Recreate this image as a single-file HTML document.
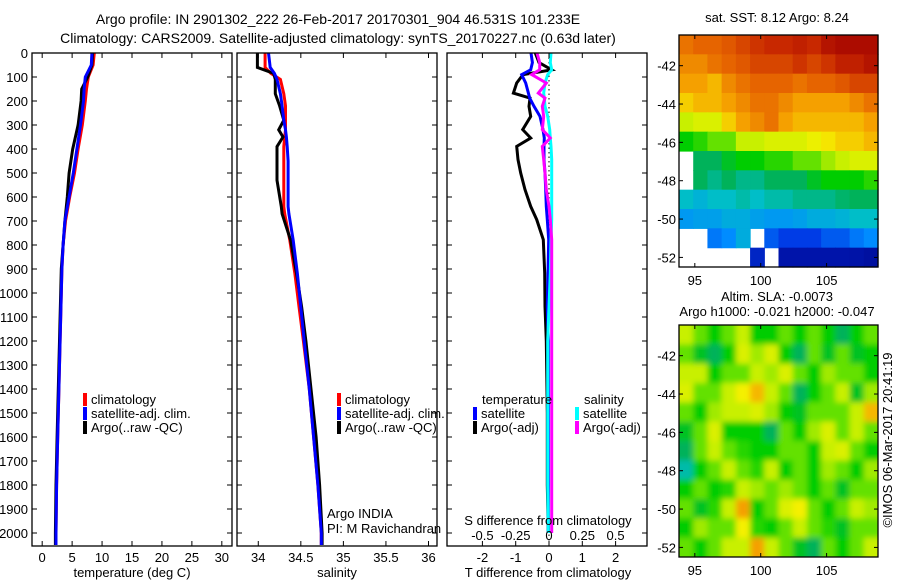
<!DOCTYPE html>
<html><head><meta charset="utf-8">
<style>
html,body{margin:0;padding:0;background:#fff;}
svg{display:block;font-family:"Liberation Sans",sans-serif;}
text{font-size:13px;fill:#000;}
</style></head>
<body>
<svg id="chart" width="900" height="580" viewBox="0 0 900 580">
<defs>
<filter id="blur" x="-10%" y="-10%" width="120%" height="120%"><feGaussianBlur stdDeviation="3"/></filter>
<clipPath id="slaclip"><rect x="679" y="325" width="199" height="232"/></clipPath>
</defs>
<text x="338" y="24" text-anchor="middle" style="font-size:14px">Argo profile: IN 2901302_222 26-Feb-2017 20170301_904 46.531S 101.233E</text>
<text x="338" y="43" text-anchor="middle" style="font-size:14px">Climatology: CARS2009. Satellite-adjusted climatology: synTS_20170227.nc (0.63d later)</text>
<g id="plots"></g>
</svg>
<script>
// ---------- data ----------
const tDepths=[0,50,100,150,200,300,400,500,600,700,800,900,1000,1200,1400,1600,1800,2000,2050];
const tClim=[8.7,8.5,7.7,7.4,7.2,6.7,6.0,5.4,4.6,3.9,3.5,3.3,3.2,3.0,2.8,2.6,2.4,2.3,2.3];
const tSat=[8.3,8.2,7.2,7.0,6.9,6.4,5.8,5.2,4.5,3.8,3.5,3.3,3.2,3.0,2.8,2.6,2.4,2.3,2.3];
const tArgo=[8.4,8.3,7.6,6.6,6.5,6.0,5.1,4.5,4.2,3.8,3.5,3.2,3.1,2.9,2.7,2.5,2.3,2.2,2.2];
const sDepths=[0,60,85,110,170,220,280,320,350,390,450,530,640,670,780,920,1060,1200,1400,1600,1800,2000,2050];
const sArgo=[33.99,33.99,34.18,34.2,34.2,34.25,34.3,34.24,34.29,34.22,34.22,34.22,34.27,34.28,34.38,34.45,34.51,34.56,34.62,34.68,34.72,34.75,34.75];
const sClim=[34.08,34.08,34.15,34.26,34.3,34.32,34.32,34.32,34.31,34.3,34.3,34.3,34.3,34.31,34.37,34.43,34.48,34.53,34.6,34.65,34.7,34.74,34.74];
const sSat=[34.12,34.14,34.19,34.22,34.26,34.28,34.3,34.32,34.33,34.34,34.35,34.35,34.35,34.36,34.41,34.46,34.5,34.54,34.6,34.65,34.7,34.74,34.74];
const dDepths=[0,40,70,90,125,167,188,222,264,319,354,389,444,500,569,639,694,778,917,1056,1200,1500,1800,2000];
const dTArgo=[-0.41,-0.3,0.08,-0.78,-0.97,-1.07,-0.57,-0.6,-0.55,-0.79,-0.55,-0.97,-0.93,-0.85,-0.72,-0.55,-0.37,-0.17,-0.13,-0.12,-0.08,-0.05,-0.05,-0.02];
const dTSat=[-0.54,-0.5,-0.55,-0.82,-0.7,-0.62,-0.58,-0.45,-0.27,-0.18,-0.14,-0.15,-0.15,-0.12,-0.1,-0.08,-0.05,-0.01,-0.03,-0.05,-0.02,-0.02,-0.02,-0.02];
const dSArgo=[-0.09,-0.07,-0.07,-0.13,-0.02,-0.08,-0.03,-0.05,-0.04,-0.05,0.01,-0.05,-0.04,-0.03,-0.02,0,0.01,0.02,0.02,0.02,0.02,0.02,0.02,0.02];
const dSSat=[0.015,0.01,0.02,-0.01,-0.03,-0.04,-0.035,-0.03,-0.01,0.005,0.01,0.015,0.02,0.02,0.02,0.02,0.02,0.015,0.01,0,-0.01,-0.01,-0.01,-0.005];
const depthTicks=[0,100,200,300,400,500,600,700,800,900,1000,1100,1200,1300,1400,1500,1600,1700,1800,1900,2000];
const tTicks=[0,5,10,15,20,25,30];
const sTicks=[34,34.5,35,35.5,36];
const dTTicks=[-2,-1,0,1,2];
const dSTicks=["-0.5","-0.25","0","0.25","0.5"];
const lonTicks=[95,100,105];
const latTicks=[-42,-44,-46,-48,-50,-52];
const sstGrid=[
[.78,.8,.8,.82,.85,.88,.9,.9,.92,.9,.95,.97,.97,.97],
[.75,.75,.78,.8,.82,.85,.85,.85,.88,.85,.88,.92,.92,.95],
[.72,.72,.7,.75,.78,.8,.8,.8,.78,.8,.8,.82,.85,.85],
[.68,.7,.7,.72,.75,.78,.78,.75,.72,.72,.72,.72,.75,.78],
[.6,.62,.62,.68,.72,.75,.78,.72,.7,.7,.7,.7,.7,.72],
[.5,.52,.55,.55,.6,.6,.62,.62,.62,.64,.66,.68,.68,.7],
[null,.45,.45,.48,.5,.5,.52,.52,.55,.55,.58,.6,.62,.62],
[null,.45,.42,.45,.42,.42,.45,.45,.45,.48,.5,.5,.5,.52],
[.38,.36,.38,.38,.4,.38,.4,.4,.42,.42,.42,.44,.45,.45],
[.32,.33,.33,.35,.35,.33,.32,.32,.33,.35,.35,.36,.38,.38],
[null,null,.28,.3,.35,null,.25,.22,.22,.22,.25,.25,.28,.3],
[null,null,null,null,null,.18,null,.15,.15,.15,.15,.15,.14,.12]];
const slaGrid=[
[.6,.55,.5,.55,.6,.5,.5,.55,.5,.55,.5,.45,.5,.55],
[.55,.48,.45,.5,.62,.58,.62,.5,.45,.55,.48,.55,.48,.5],
[.6,.6,.5,.55,.55,.6,.58,.62,.55,.5,.58,.55,.55,.5],
[.62,.55,.55,.6,.65,.7,.6,.55,.45,.5,.55,.6,.48,.58],
[.55,.5,.58,.6,.6,.62,.58,.5,.48,.55,.55,.55,.6,.7],
[.48,.55,.62,.5,.5,.5,.45,.55,.5,.58,.62,.55,.6,.55],
[.45,.55,.6,.55,.52,.5,.5,.55,.55,.5,.6,.62,.55,.5],
[.4,.5,.55,.6,.55,.52,.6,.5,.55,.5,.58,.55,.5,.58],
[.5,.55,.5,.52,.6,.58,.55,.58,.55,.5,.55,.48,.55,.55],
[.55,.48,.52,.6,.72,.5,.55,.62,.65,.55,.5,.55,.6,.58],
[.5,.58,.55,.55,.65,.52,.5,.55,.6,.55,.52,.48,.55,.55],
[.55,.5,.55,.6,.6,.72,.6,.55,.48,.45,.55,.5,.55,.6]];

// ---------- helpers ----------
const NS="http://www.w3.org/2000/svg";
const root=document.getElementById('plots');
function mk(tag,attrs,parent,txt){const e=document.createElementNS(NS,tag);for(const k in attrs)e.setAttribute(k,attrs[k]);if(txt!==undefined)e.textContent=txt;(parent||root).appendChild(e);return e;}
const TOP=53,BOT=546;
const yD=d=>TOP+d*0.24;
function lin(d0,d1,r0,r1){return v=>r0+(v-d0)/(d1-d0)*(r1-r0);}
const xT=lin(-1.7,31.7,32,232);
const xS=lin(33.75,36.1,237,437);
const xDT=v=>549+33.3*v;
const xDS=v=>549+133.2*v;

function frame(x0,name){
  const r=mk('rect',{x:x0,y:TOP,width:200,height:BOT-TOP,fill:'none',stroke:'#000','stroke-width':1.3});
  
  
}
function xticks(vals,fx,labels,name){
  vals.forEach((v,i)=>{
    const x=fx(v);
    mk('line',{x1:x,x2:x,y1:TOP,y2:TOP+5,stroke:'#000'});
    mk('line',{x1:x,x2:x,y1:BOT,y2:BOT-5,stroke:'#000'});
    const t=mk('text',{x:x,y:562,'text-anchor':'middle'},root,labels?labels[i]:String(v));
    
    
  });
}
function line(xs,ds,fx,color,name){
  const pts=xs.map((v,i)=>fx(v).toFixed(1)+','+yD(ds[i]).toFixed(1)).join(' ');
  const p=mk('polyline',{points:pts,fill:'none',stroke:color,'stroke-width':3,'stroke-linejoin':'miter'});
  
  
}
function legend(x,y,color,label,name){
  const g=mk('g',{});
  
  
  mk('rect',{x:x-2,y:y-11,width:4,height:13,fill:color},g);
  mk('text',{x:x+6,y:y},g,label);
}
function label(x,y,txt,name,anchor){
  const t=mk('text',{x:x,y:y,'text-anchor':anchor||'start'},root,txt);
  
  
  return t;
}

// depth axis
depthTicks.forEach(d=>{
  const y=yD(d);
  const t=mk('text',{x:28,y:y+5,'text-anchor':'end'},root,String(d));
  
  
  [32,237,447].forEach(x0=>{
    mk('line',{x1:x0,x2:x0+5,y1:y,y2:y,stroke:'#000'});
    mk('line',{x1:x0+200,x2:x0+195,y1:y,y2:y,stroke:'#000'});
  });
});

// panel 1 temperature
line(tClim,tDepths,xT,'#ff0000','temp-climatology-line');
line(tArgo,tDepths,xT,'#000000','temp-argo-line');
line(tSat,tDepths,xT,'#0000ff','temp-satellite-line');
frame(32,'temperature-panel');
xticks(tTicks,xT,null,'temperature-tick-label');
label(132,577,'temperature (deg C)','temperature-axis-title','middle');
legend(85,404,'#ff0000','climatology','legend-climatology');
legend(85,418,'#0000ff','satellite-adj. clim.','legend-satellite');
legend(85,432,'#000000','Argo(..raw -QC)','legend-argo');

// panel 2 salinity
line(sClim,sDepths,xS,'#ff0000','sal-climatology-line');
line(sArgo,sDepths,xS,'#000000','sal-argo-line');
line(sSat,sDepths,xS,'#0000ff','sal-satellite-line');
frame(237,'salinity-panel');
xticks(sTicks,xS,null,'salinity-tick-label');
label(337,577,'salinity','salinity-axis-title','middle');
legend(339,404,'#ff0000','climatology','legend-climatology-2');
legend(339,418,'#0000ff','satellite-adj. clim.','legend-satellite-2');
legend(339,432,'#000000','Argo(..raw -QC)','legend-argo-2');
label(327,518,'Argo INDIA','float-institution');
label(327,533,'PI: M Ravichandran','float-pi');

// panel 3 differences
mk('line',{x1:549,x2:549,y1:TOP,y2:BOT,stroke:'#000','stroke-dasharray':'1.5,3'});
line(dTArgo,dDepths,xDT,'#000000','dT-argo-line');
line(dTSat,dDepths,xDT,'#0000ff','dT-satellite-line');
line(dSSat,dDepths,xDS,'#00ffff','dS-satellite-line');
line(dSArgo,dDepths,xDS,'#ff00ff','dS-argo-line');
frame(447,'difference-panel');
xticks(dTTicks,xDT,null,'dT-tick-label');
dSTicks.forEach(v=>{
  label(xDS(parseFloat(v)),540,v,'dS-tick-label','middle');
});
label(548,525,'S difference from climatology','dS-axis-title','middle');
label(548,577,'T difference from climatology','dT-axis-title','middle');
label(482,404,'temperature','legend-temperature-heading');
label(584,404,'salinity','legend-salinity-heading');
legend(475,418,'#0000ff','satellite','legend-dT-satellite');
legend(475,432,'#000000','Argo(-adj)','legend-dT-argo');
legend(577,418,'#00ffff','satellite','legend-dS-satellite');
legend(577,432,'#ff00ff','Argo(-adj)','legend-dS-argo');

// ---------- maps ----------
const stops=[[0,[0,0,120]],[0.15,[0,20,170]],[0.22,[0,60,230]],[0.3,[0,140,255]],[0.38,[0,190,200]],[0.45,[0,178,90]],[0.5,[0,205,0]],[0.55,[100,225,0]],[0.6,[200,240,0]],[0.65,[245,240,0]],[0.72,[245,160,0]],[0.8,[230,100,0]],[0.9,[200,40,0]],[1,[160,0,0]]];
function cmap(v){
  for(let i=1;i<stops.length;i++){if(v<=stops[i][0]){const a=stops[i-1],b=stops[i],f=(v-a[0])/(b[0]-a[0]);return 'rgb('+a[1].map((c,k)=>Math.round(c+f*(b[1][k]-c))).join(',')+')';}}
  return 'rgb(160,0,0)';
}
const MX0=679,MX1=878;
const xLon=lin(93.8,108.9,MX0,MX1);
function map(grid,top,bot,name,cellName,smooth){
  const g=mk('g',{});
  
  
  let cg=g;
  if(smooth){
    const clip=mk('g',{'clip-path':'url(#slaclip)'},g);
    cg=mk('g',{filter:'url(#blur)'},clip);
  }
  const rows=grid.length,cols=grid[0].length;
  const cw=(MX1-MX0)/cols,ch=(bot-top)/rows;
  grid.forEach((row,r)=>row.forEach((v,c)=>{
    if(v===null)return;
    let x=MX0+c*cw,y=top+r*ch,w=cw+0.6,h=ch+0.6;
    if(smooth){ if(c===0){x-=12;w+=12;} if(c===cols-1)w+=12; if(r===0){y-=12;h+=12;} if(r===rows-1)h+=12; }
    const e=mk('rect',{x:x.toFixed(2),y:y.toFixed(2),width:w.toFixed(2),height:h.toFixed(2),fill:cmap(v)},cg);
    
    
  }));
  mk('rect',{x:MX0,y:top,width:MX1-MX0,height:bot-top,fill:'none',stroke:'#000','stroke-width':1.3},g);
  const yLat=lin(-40.4,-52.5,top,bot);
  latTicks.forEach(v=>{
    const y=yLat(v);
    mk('line',{x1:MX0,x2:MX0+4,y1:y,y2:y,stroke:'#000'},g);
    mk('line',{x1:MX1,x2:MX1-4,y1:y,y2:y,stroke:'#000'},g);
    const t=mk('text',{x:MX0-3,y:y+5,'text-anchor':'end'},g,String(v));
    
    
  });
  lonTicks.forEach(v=>{
    const x=xLon(v);
    mk('line',{x1:x,x2:x,y1:bot,y2:bot-4,stroke:'#000'},g);
    mk('line',{x1:x,x2:x,y1:top,y2:top+4,stroke:'#000'},g);
    const t=mk('text',{x:x,y:bot+18,'text-anchor':'middle'},g,String(v));
    
    
  });
}
map(sstGrid,35,267,'sst-map','sst-cell',false);
map(slaGrid,325,557,'sla-map','sla-cell',true);
label(777,22,'sat. SST: 8.12 Argo: 8.24','sst-map-title','middle');
label(777,301,'Altim. SLA: -0.0073','sla-map-title','middle');
label(777,316,'Argo h1000: -0.021 h2000: -0.047','sla-map-subtitle','middle');
const cr=label(0,0,'©IMOS 06-Mar-2017 20:41:19','imos-credit','middle');
cr.setAttribute('transform','translate(892,440) rotate(-90)');
</script>
</body></html>
